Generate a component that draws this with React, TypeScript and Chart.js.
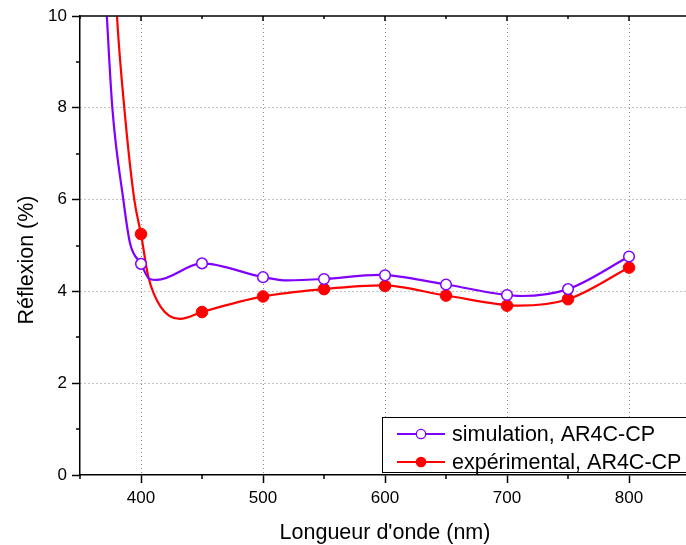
import React, { useEffect, useRef } from 'react';
import { Chart, registerables } from 'chart.js';

Chart.register(...registerables);

// Measured points (markers)
const wavelengths = [400, 450, 500, 550, 600, 650, 700, 750, 800];
const simulation = [4.6, 4.61, 4.31, 4.27, 4.35, 4.15, 3.92, 4.05, 4.76];
const experimental = [5.25, 3.55, 3.89, 4.05, 4.12, 3.91, 3.69, 3.83, 4.52];

// Fitted curves
const simCurveX = [370, 372, 376.5, 385.5, 391, 400, 407, 413, 450, 500, 520, 550, 595, 650, 712, 750, 800];
const simCurveY = [11, 10, 8, 6, 5.05, 4.6, 4.27, 4.25, 4.61, 4.31, 4.24, 4.27, 4.36, 4.15, 3.9, 4.05, 4.76];
const expCurveX = [378.5, 380.3, 386.3, 394.5, 400, 406, 416, 432, 450, 500, 550, 598, 650, 710, 750, 800];
const expCurveY = [11, 10, 8, 6, 5.25, 4.32, 3.67, 3.4, 3.55, 3.89, 4.05, 4.13, 3.91, 3.69, 3.83, 4.52];

const xTicks = [400, 500, 600, 700, 800];
const xMinorTicks = [350, 450, 550, 650, 750];
const yTicks = [0, 2, 4, 6, 8, 10];
const yMinorTicks = [1, 3, 5, 7, 9];
const xTitle = "Longueur d'onde (nm)";
const yTitle = 'Réflexion (%)';
const legendLabels = ['simulation, AR4C-CP', 'expérimental, AR4C-CP'];

const PURPLE = '#8000ff';
const RED = '#ff0000';
const FONT = 'Arial, "Liberation Sans", sans-serif';

const decorPlugin = {
  id: 'decor',
  afterDraw(chart: any) {
    const { ctx, chartArea: a, scales } = chart;
    const x = scales.x;
    const y = scales.y;
    const line = (x1: number, y1: number, x2: number, y2: number) => {
      ctx.beginPath();
      ctx.moveTo(x1, y1);
      ctx.lineTo(x2, y2);
      ctx.stroke();
    };
    ctx.save();
    ctx.strokeStyle = '#000';
    ctx.lineWidth = 1.5;
    // top frame line
    line(a.left - 0.75, a.top, a.right + 2, a.top);
    // minor ticks
    xMinorTicks.forEach((v) => {
      const px = Math.round(x.getPixelForValue(v));
      line(px, a.bottom, px, a.bottom + 4);
      line(px, a.top, px, a.top + 3);
    });
    xTicks.forEach((v) => {
      const px = Math.round(x.getPixelForValue(v));
      line(px, a.top, px, a.top + 5);
    });
    yMinorTicks.forEach((v) => {
      const py = Math.round(y.getPixelForValue(v));
      line(a.left - 4, py, a.left, py);
    });

    // legend
    const lx = 382;
    const ly = 417;
    ctx.fillStyle = '#fff';
    ctx.fillRect(lx, ly, 330, 56);
    ctx.lineWidth = 1;
    ctx.strokeStyle = '#000';
    ctx.strokeRect(lx + 0.5, ly + 0.5, 330, 55);
    const rows = [
      { cy: 434, color: PURPLE, fill: '#fff', label: legendLabels[0] },
      { cy: 462, color: RED, fill: RED, label: legendLabels[1] },
    ];
    rows.forEach((r) => {
      ctx.strokeStyle = r.color;
      ctx.lineWidth = 2;
      line(397, r.cy, 445, r.cy);
      ctx.beginPath();
      ctx.arc(421, r.cy, 4.7, 0, Math.PI * 2);
      ctx.fillStyle = r.fill;
      ctx.fill();
      ctx.lineWidth = 1.3;
      ctx.stroke();
      ctx.fillStyle = '#000';
      ctx.font = `21.5px ${FONT}`;
      ctx.textAlign = 'left';
      ctx.textBaseline = 'middle';
      ctx.fillText(r.label, 452, r.cy + 1);
    });

    // axis titles
    ctx.fillStyle = '#000';
    ctx.font = `21.5px ${FONT}`;
    ctx.textAlign = 'center';
    ctx.textBaseline = 'alphabetic';
    ctx.fillText(xTitle, 385, 539);
    ctx.save();
    ctx.translate(33, 260);
    ctx.rotate(-Math.PI / 2);
    ctx.fillText(yTitle, 0, 0);
    ctx.restore();
    ctx.restore();
  },
};

export default function App() {
  const canvasRef = useRef<HTMLCanvasElement | null>(null);

  useEffect(() => {
    document.body.style.margin = '0';
    const canvas = canvasRef.current;
    if (!canvas) return;
    const chart = new Chart(canvas, {
      type: 'line',
      data: {
        datasets: [
          {
            label: 'simMarkers',
            data: wavelengths.map((w, i) => ({ x: w, y: simulation[i] })),
            showLine: false,
            pointRadius: 5.3,
            pointBackgroundColor: '#fff',
            pointBorderColor: PURPLE,
            pointBorderWidth: 1.5,
            borderColor: PURPLE,
            order: 0,
          },
          {
            label: 'expMarkers',
            data: wavelengths.map((w, i) => ({ x: w, y: experimental[i] })),
            showLine: false,
            pointRadius: 5.8,
            pointBackgroundColor: RED,
            pointBorderColor: RED,
            pointBorderWidth: 1,
            borderColor: RED,
            order: 0,
          },
          {
            label: 'simCurve',
            data: simCurveX.map((w, i) => ({ x: w, y: simCurveY[i] })),
            borderColor: PURPLE,
            borderWidth: 2.2,
            pointRadius: 0,
            cubicInterpolationMode: 'monotone',
            fill: false,
            order: 1,
          },
          {
            label: 'expCurve',
            data: expCurveX.map((w, i) => ({ x: w, y: expCurveY[i] })),
            borderColor: RED,
            borderWidth: 2.2,
            pointRadius: 0,
            cubicInterpolationMode: 'monotone',
            fill: false,
            order: 1,
          },
        ],
      },
      options: {
        animation: false,
        responsive: false,
        devicePixelRatio: 1,
        layout: { autoPadding: false, padding: { top: 16, right: 0, left: 0, bottom: 0 } },
        plugins: {
          legend: { display: false },
          tooltip: { enabled: false },
        },
        scales: {
          x: {
            type: 'linear',
            min: 350,
            max: 846.7,
            afterFit: (s: any) => {
              s.height = 70;
              s.paddingLeft = 0;
              s.paddingRight = 0;
            },
            afterBuildTicks: (s: any) => {
              s.ticks = xTicks.map((v) => ({ value: v }));
            },
            grid: {
              color: '#8c8c8c',
              lineWidth: 1,
              tickLength: 8,
              tickColor: '#000',
              tickWidth: 1.5,
              tickBorderDash: [],
            },
            border: { display: true, color: '#000', width: 1.5, dash: [1, 3] },
            ticks: {
              color: '#000',
              font: { family: FONT, size: 17 },
              padding: 5,
              maxRotation: 0,
            },
          },
          y: {
            type: 'linear',
            min: 0,
            max: 10,
            afterFit: (s: any) => {
              s.width = 80;
              s.paddingTop = 0;
              s.paddingBottom = 0;
            },
            afterBuildTicks: (s: any) => {
              s.ticks = yTicks.map((v) => ({ value: v }));
            },
            grid: {
              color: (c: any) => (c.tick && (c.tick.value === 10 || c.tick.value === 0) ? 'rgba(0,0,0,0)' : '#8c8c8c'),
              lineWidth: 1,
              tickLength: 8,
              tickColor: '#000',
              tickWidth: 1.5,
              tickBorderDash: [],
            },
            border: { display: true, color: '#000', width: 1.5, dash: [1, 3] },
            ticks: {
              color: '#000',
              font: { family: FONT, size: 17 },
              padding: 5,
            },
          },
        },
      },
      plugins: [decorPlugin],
    } as any);
    return () => chart.destroy();
  }, []);

  return (
    <div style={{ position: 'absolute', left: 0, top: 0, width: 686, height: 545, background: '#fff' }}>
      <canvas ref={canvasRef} width={686} height={545} style={{ display: 'block' }} />
    </div>
  );
}
